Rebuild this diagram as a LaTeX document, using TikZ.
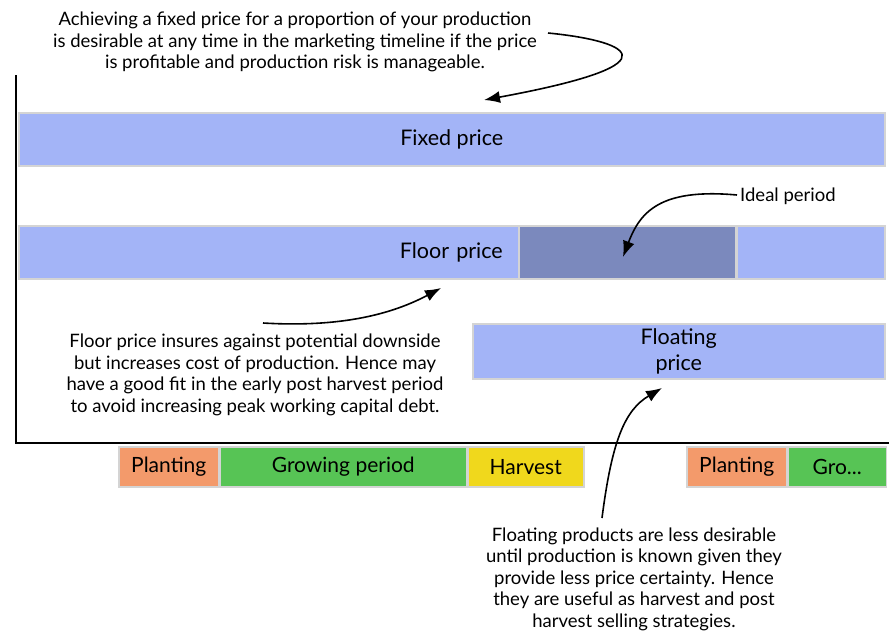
\documentclass[tikz,border=0pt]{standalone}
\usepackage{fontspec}
\setmainfont{Lato}
\usepackage{tikz}
\usetikzlibrary{arrows.meta}
\usetikzlibrary{positioning}

\definecolor{barblue}{HTML}{A3B4F7}
\definecolor{idealblue}{HTML}{7B89BD}
\definecolor{barline}{HTML}{D4D4D4}
\definecolor{plantcol}{HTML}{F39A6B}
\definecolor{growcol}{HTML}{57C455}
\definecolor{harvcol}{HTML}{F0D81C}

\begin{document}
\begin{tikzpicture}[x=1pt, y=-1pt, >={Latex[length=16pt,width=12pt]},
    bar/.style={draw=barline, line width=1.5pt, fill=barblue, inner sep=0pt,
                font=\fontsize{21.5}{26}\selectfont},
    phase/.style={draw=barline, line width=1.5pt, inner sep=0pt, minimum height=40pt,
                  font=\fontsize{21}{24}\selectfont},
    note/.style={align=center, inner sep=0pt, font=\fontsize{18.5}{21.5}\selectfont},
    curve/.style={->, line width=1.6pt}]
  \useasboundingbox (0,0) rectangle (889,633);

  % axes
  \draw[line width=1.6pt] (16,75) -- (16,443) -- (889,443);

  % price bars
  \node[bar, anchor=north west, minimum width=866pt, minimum height=53pt] (fixed) at (18,112) {Fixed price};
  \node[bar, anchor=north west, minimum height=53pt, text width=468pt, inner xsep=16pt, align=right] (floor) at (18,225) {Floor price};
  \node[bar, anchor=north west, fill=idealblue, minimum width=217pt, minimum height=53pt] (ideal) at (518,225) {};
  \node[bar, anchor=north west, minimum width=148pt, minimum height=53pt] (floorrest) at (736,225) {};
  \node[bar, anchor=north west, minimum width=412pt, minimum height=55pt, align=center] (floating) at (472,323) {Floating\\price};

  % timeline
  \node[phase, fill=plantcol, anchor=north west, minimum width=100pt] (plant1) at (118,446) {Planting};
  \node[phase, fill=growcol, minimum width=246pt, right=0pt of plant1] (grow1) {Growing period};
  \node[phase, fill=harvcol, minimum width=116pt, right=0pt of grow1] (harv1) {Harvest};
  \node[phase, fill=plantcol, anchor=north west, minimum width=100pt] (plant2) at (686,446) {Planting};
  \node[phase, fill=growcol, minimum width=98pt, right=0pt of plant2] (grow2) {Gro...};

  % notes
  \node[note] (fixnote) at (295,42) {Achieving a fixed price for a proportion of your production\\is desirable at any time in the marketing timeline if the price\\is profitable and production risk is manageable.};
  \node[note, anchor=west] (idealnote) at (740,196) {Ideal period};
  \node[note] (floornote) at (255,375) {Floor price insures against potential downside\\but increases cost of production. Hence may\\have a good fit in the early post harvest period\\to avoid increasing peak working capital debt.};
  \node[note] (floatnote) at (634,579) {Floating products are less desirable\\until production is known given they\\provide less price certainty. Hence\\they are useful as harvest and post\\harvest selling strategies.};

  % arrows
  \coordinate (fixtail) at (548,33);
  \coordinate (fixtip) at (484,100);
  \coordinate (idealtail) at (737,195);
  \coordinate (idealtip) at (623,257);
  \coordinate (floortail) at (263,323);
  \coordinate (floortip) at (441,288);
  \coordinate (floattail) at (602,518);
  \coordinate (floattip) at (662,388);
  \draw[curve] (fixtail) .. controls (620,40) and (690,62) .. (fixtip);
  \draw[curve] (idealtail) .. controls (660,188) and (640,212) .. (idealtip);
  \draw[curve] (floortail) .. controls (330,327) and (385,318) .. (floortip);
  \draw[curve] (floattail) .. controls (612,440) and (625,410) .. (floattip);
\end{tikzpicture}
\end{document}
